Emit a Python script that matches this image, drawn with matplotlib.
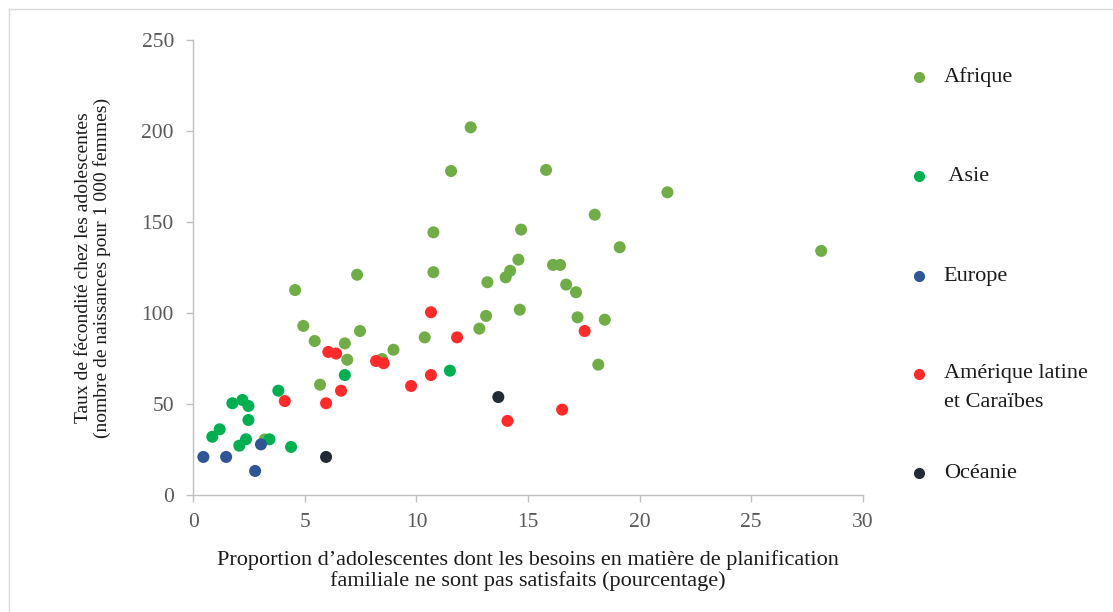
import matplotlib.pyplot as plt
from matplotlib.lines import Line2D

plt.rcParams['font.family'] = ['Liberation Serif', 'DejaVu Serif']

# Afrique
afr_x = [4.56, 4.93, 5.44, 6.79, 7.47, 6.90, 8.46, 8.97, 10.37, 5.68, 12.82, 3.20,
         11.55, 15.81, 21.25, 17.99, 10.76, 14.69, 19.11, 28.14, 10.76, 14.57, 14.20,
         14.00, 13.18, 16.12, 16.44, 16.71, 17.15, 13.12, 14.63, 17.22, 18.44, 18.15,
         12.43, 7.34]
afr_y = [112.6, 92.9, 84.6, 83.3, 90.1, 74.3, 74.7, 79.8, 86.6, 60.6, 91.4, 30.5,
         178.0, 178.6, 166.3, 154.0, 144.3, 145.8, 136.1, 134.1, 122.4, 129.3, 123.2,
         119.6, 116.9, 126.4, 126.4, 115.6, 111.4, 98.4, 101.8, 97.6, 96.3, 71.6,
         202.0, 121.0]

# Asie
asie_x = [0.85, 1.18, 1.75, 2.20, 2.47, 2.47, 2.06, 2.36, 3.41, 3.81, 4.38, 6.79, 11.50]
asie_y = [32.0, 36.1, 50.4, 52.2, 48.9, 41.2, 27.1, 30.6, 30.6, 57.3, 26.4, 65.9, 68.3]

# Europe
eur_x = [0.45, 1.47, 2.77, 3.03]
eur_y = [20.9, 20.9, 13.2, 27.8]

# Amérique latine et Caraïbes
aml_x = [4.10, 5.95, 6.62, 6.05, 6.40, 8.19, 8.53, 9.76, 10.65, 10.65, 11.82,
         14.08, 16.53, 17.54]
aml_y = [51.6, 50.4, 57.3, 78.6, 77.7, 73.6, 72.4, 59.9, 65.9, 100.4, 86.6,
         40.7, 46.9, 90.1]

# Océanie
oce_x = [5.95, 13.67]
oce_y = [20.9, 53.8]

series = [
    ('Afrique', afr_x, afr_y, '#70AD47'),
    (' Asie', asie_x, asie_y, '#00B050'),
    ('Europe', eur_x, eur_y, '#2F5597'),
    ('Amérique latine\net Caraïbes', aml_x, aml_y, '#FF2B2B'),
    ('Océanie', oce_x, oce_y, '#222A35'),
]

fig = plt.figure(figsize=(11.13, 6.12), dpi=100)
ax = fig.add_axes([0.1737, 0.1912, 0.6014, 0.7435])

for name, xs, ys, col in series:
    ax.scatter(xs, ys, s=75, color=col, edgecolors='none', zorder=3)

ax.set_xlim(0, 30)
ax.set_ylim(0, 250)
ax.set_xticks(range(0, 31, 5))
ax.set_yticks(range(0, 251, 50))
for s in ['top', 'right']:
    ax.spines[s].set_visible(False)
for s in ['left', 'bottom']:
    ax.spines[s].set_color('#BFBFBF')
    ax.spines[s].set_linewidth(1.0)
ax.tick_params(direction='out', length=5, width=1.0, color='#BFBFBF',
               labelsize=15.5, labelcolor='#595959')
ax.tick_params(axis='y', pad=9)
ax.tick_params(axis='x', pad=8)

ax.set_xlabel("Proportion d\u2019adolescentes dont les besoins en matière de planification\n"
              "familiale ne sont pas satisfaits (pourcentage)",
              fontsize=16, color='#1a1a1a', labelpad=13, linespacing=1.1)
ax.set_ylabel("Taux de fécondité chez les adolescentes\n"
              "(nombre de naissances pour 1 000 femmes)",
              fontsize=14, color='#1a1a1a', labelpad=22, linespacing=1.1)

# legend drawn by hand to keep the wide spacing of the original
leg_y = [0.8737, 0.7124, 0.549, 0.3889, 0.2271]
line_step = 29 / 612
for (name, xs, ys, col), yy in zip(series, leg_y):
    fig.add_artist(Line2D([0.8254], [yy], marker='o', markersize=7, color=col,
                          linestyle='none', transform=fig.transFigure))
    for i, part in enumerate(name.split('\n')):
        fig.text(0.848, yy - i * line_step, part, fontsize=16, va='center',
                 ha='left', color='#1a1a1a')

# faint frame on left and top edges
fig.add_artist(Line2D([9/1113, 9/1113], [0, 1 - 9/612], color='#D9D9D9', lw=1,
                      transform=fig.transFigure))
fig.add_artist(Line2D([9/1113, 1], [1 - 9/612, 1 - 9/612], color='#D9D9D9', lw=1,
                      transform=fig.transFigure))

fig.savefig('out.png', dpi=100)
